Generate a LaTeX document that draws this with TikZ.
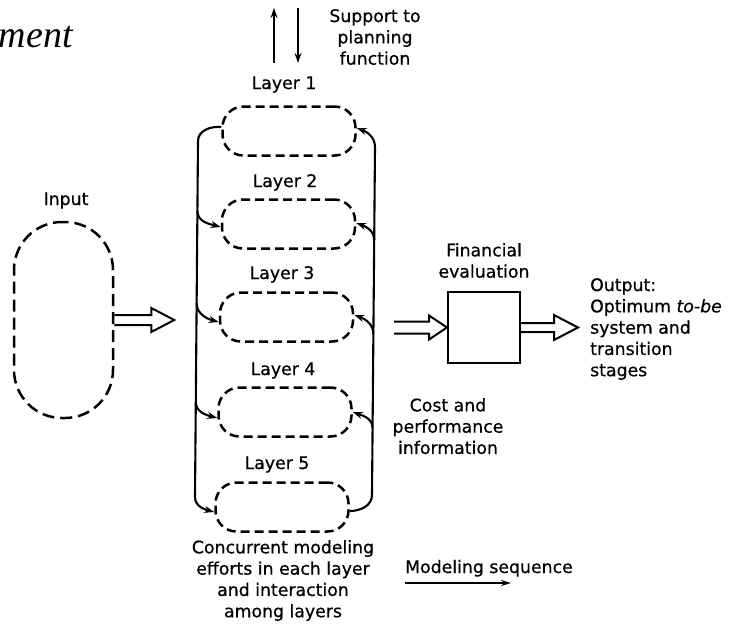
\documentclass[tikz,border=0pt]{standalone}
\usepackage{fontspec}
\setmainfont[FakeBold=0.6]{DejaVu Sans}
\newfontfamily\titlefont{Liberation Serif}
\usetikzlibrary{arrows.meta,calc}
\begin{document}
\begin{tikzpicture}[x=1pt,y=1pt,
  lbl/.style={font=\fontsize{17.3}{21.3}\selectfont, inner sep=0pt, align=center},
  oval/.style={draw, line width=2.5pt, dash pattern=on 9pt off 5pt, rounded corners=21pt,
    minimum width=133pt, minimum height=49pt, inner sep=0pt},
  frame/.style={line width=2.1pt},
  tip/.style={-{Stealth[length=10pt,width=7pt]}},
  hollow/.style={line width=2pt, line join=miter}
]
\useasboundingbox (0,0) rectangle (731,-626);

% title fragment
\node[anchor=base east, inner sep=0pt, font=\titlefont\itshape\fontsize{38}{40}\selectfont] (title) at (73,-48) {ment};

% layer ovals
\node[oval] (L1) at (289,-131) {};
\node[oval] (L2) at (288.5,-224) {};
\node[oval] (L3) at (286.5,-317) {};
\node[oval] (L4) at (285,-412) {};
\node[oval] (L5) at (282,-507) {};

% layer labels
\node[lbl, anchor=base] (t1) at (284,-89) {Layer 1};
\node[lbl, anchor=base] (t2) at (285,-187) {Layer 2};
\node[lbl, anchor=base] (t3) at (282,-279) {Layer 3};
\node[lbl, anchor=base] (t4) at (283,-375) {Layer 4};
\node[lbl, anchor=base] (t5) at (277,-469) {Layer 5};

% input
\node[draw, line width=2.5pt, dash pattern=on 12pt off 6pt, rounded corners=48pt,
  minimum width=99pt, minimum height=196pt, inner sep=0pt] (IN) at (63.5,-320) {};
\node[lbl, anchor=base] (tin) at (66,-205) {Input};

% financial evaluation
\node[draw, line width=2pt, minimum width=72pt, minimum height=71pt, inner sep=0pt] (FE) at (484,-327.5) {};
\node[lbl, anchor=north] (tfe) at (484,-243) {Financial\\evaluation};

% texts
\node[lbl, align=left, anchor=north west] (tout) at (590,-278) {Output:\\Optimum \textit{to-be}\\system and\\transition\\stages};
\node[lbl, anchor=north] (tcost) at (448,-398) {Cost and\\performance\\information};
\node[lbl, anchor=north] (tsup) at (375,-9) {Support to\\planning\\function};
\node[lbl, anchor=north] (tcon) at (283,-540) {Concurrent modeling\\efforts in each layer\\and interaction\\among layers};
\node[lbl, anchor=base west] (tms) at (405,-573) {Modeling sequence};

% modeling sequence arrow
\coordinate (ms1) at (405,-583);
\coordinate (ms2) at (511,-583);
\draw[line width=1.6pt, -{Stealth[length=10pt,width=6pt]}] (ms1) -- (ms2);

% support arrows
\coordinate (su1) at (274,-63);
\coordinate (su2) at (274,-8);
\coordinate (sd1) at (298,-8);
\coordinate (sd2) at (298,-63);
\draw[frame, tip] (su1) -- (su2);
\draw[frame, tip] (sd1) -- (sd2);

% frame lines
\coordinate (TL) at (198,-141);
\coordinate (BL) at (195,-497);
\coordinate (TR) at (375,-147);
\coordinate (BR) at (372,-495);
\draw[frame, tip] ($(L1.west)+(0,4)$) to[out=175,in=90] (TL) -- (BL) to[out=-90,in=165] ($(L5.west)+(0,-5)$);
\draw[frame, tip] ($(L5.east)+(0,-4)$) to[out=0,in=-90] (BR) -- (TR) to[out=90,in=-20] ($(L1.east)+(0,3)$);

% left branches
\coordinate (l2) at (197.4,-211);
\coordinate (l3) at (196.6,-303);
\coordinate (l4) at (195.8,-402);
\draw[frame, tip] (l2) to[out=-90,in=165] ($(L2.west)+(0,-3)$);
\draw[frame, tip] (l3) to[out=-90,in=165] ($(L3.west)+(0,-5)$);
\draw[frame, tip] (l4) to[out=-90,in=165] ($(L4.west)+(0,-6)$);

% right branches
\coordinate (r2) at (374.2,-240);
\coordinate (r3) at (373.4,-334);
\coordinate (r4) at (372.6,-428);
\draw[frame, tip] (r2) to[out=90,in=-20] ($(L2.east)+(0,1)$);
\draw[frame, tip] (r3) to[out=90,in=-20] ($(L3.east)+(0,2)$);
\draw[frame, tip] (r4) to[out=90,in=-20] ($(L4.east)+(0,0)$);

% hollow arrows
\draw[hollow] ($(IN.east)+(0,5)$) -- ++(37,0) -- ++(0,7) -- ++(23,-12) -- ++(-23,-12) -- ++(0,7) -- ++(-37,0);
\draw[hollow] ($(FE.west)+(-53,6)$) -- ++(35,0) -- ++(0,6) -- ++(18,-12) -- ++(-18,-12) -- ++(0,6) -- ++(-35,0);
\draw[hollow] ($(FE.east)+(0,4.5)$) -- ++(33,0) -- ++(0,8) -- ++(24,-12.5) -- ++(-24,-12.5) -- ++(0,8) -- ++(-33,0);
\end{tikzpicture}
\end{document}
